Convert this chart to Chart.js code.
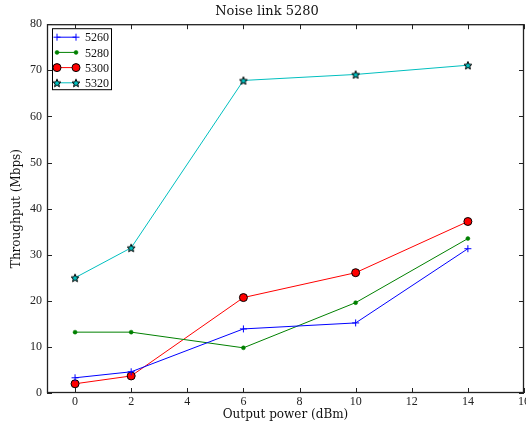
<!DOCTYPE html>
<html>
<head>
<meta charset="utf-8">
<script src="https://cdn.jsdelivr.net/npm/chart.js@4/dist/chart.umd.min.js"></script>
<style>
  html, body { margin: 0; padding: 0; background: #fff; }
  #wrap { width: 526px; height: 426px; }
</style>
</head>
<body>
<div id="wrap"><canvas id="chart"></canvas></div>
<script>
// data
const powerDbm = [0, 2, 6, 10, 14];
const link5260 = [3.3, 4.6, 13.9, 15.2, 31.3];
const link5280 = [13.2, 13.2, 9.8, 19.6, 33.5];
const link5300 = [2.0, 3.7, 20.7, 26.1, 37.2];
const link5320 = [25.0, 31.5, 67.8, 69.1, 71.1];
const xTicks = [0, 2, 4, 6, 8, 10, 12, 14, 16];
const yTicks = [0, 10, 20, 30, 40, 50, 60, 70, 80];

const TICK_FONT = '"Liberation Serif", "DejaVu Serif", serif';
const LABEL_FONT = '"DejaVu Serif", "Liberation Serif", serif';

// filled star marker like matplotlib '*'
function makeStar(size, fill) {
    const c = document.createElement('canvas');
    c.width = size; c.height = size;
    const g = c.getContext('2d');
    const cx = size / 2, cy = size / 2 + 0.5, R = size / 2 - 0.8, r = R * 0.45;
    g.beginPath();
    for (let i = 0; i < 10; i++) {
        const a = -Math.PI / 2 + i * Math.PI / 5;
        const rad = i % 2 === 0 ? R : r;
        g.lineTo(cx + rad * Math.cos(a), cy + rad * Math.sin(a));
    }
    g.closePath();
    g.fillStyle = fill;
    g.fill();
    g.lineWidth = 1;
    g.strokeStyle = '#000';
    g.stroke();
    return c;
}
const starImg = makeStar(10, '#00bfbf');

function pts(arr) {
    return arr.map((v, i) => ({ x: powerDbm[i], y: v }));
}

// inward ticks on all four sides + full frame
const frameTicks = {
    id: 'frameTicks',
    afterDraw(chart) {
        const { ctx, chartArea: a, scales } = chart;
        ctx.save();
        ctx.strokeStyle = '#222';
        ctx.lineWidth = 1.3;
        ctx.strokeRect(a.left + 0.5, a.top + 0.5, a.right - a.left - 1, a.bottom - a.top - 1);
        ctx.lineWidth = 1;
        ctx.beginPath();
        xTicks.forEach(t => {
            const px = Math.round(scales.x.getPixelForValue(t)) + 0.5;
            ctx.moveTo(px, a.bottom); ctx.lineTo(px, a.bottom - 5);
            ctx.moveTo(px, a.top); ctx.lineTo(px, a.top + 5);
        });
        yTicks.forEach(t => {
            const py = Math.round(scales.y.getPixelForValue(t)) + 0.5;
            ctx.moveTo(a.left, py); ctx.lineTo(a.left + 5, py);
            ctx.moveTo(a.right, py); ctx.lineTo(a.right - 5, py);
        });
        ctx.stroke();
        ctx.restore();
    }
};

// legend box in upper left of the plot
const boxLegend = {
    id: 'boxLegend',
    afterDraw(chart) {
        const { ctx, chartArea: a } = chart;
        const x0 = a.left + 5, y0 = a.top + 4, w = 59, h = 61;
        ctx.save();
        ctx.fillStyle = '#fff';
        ctx.fillRect(x0, y0, w, h);
        ctx.strokeStyle = '#000';
        ctx.lineWidth = 1;
        ctx.strokeRect(x0 + 0.5, y0 + 0.5, w, h);
        chart.data.datasets.forEach((ds, i) => {
            const y = y0 + 9 + i * 15.2;
            const xa = x0 + 5, xb = x0 + 24;
            ctx.strokeStyle = ds.borderColor;
            ctx.lineWidth = 1;
            ctx.beginPath();
            ctx.moveTo(xa, y); ctx.lineTo(xb, y);
            ctx.stroke();
            [xa, xb].forEach(px => {
                if (ds.pointStyle === starImg) {
                    ctx.drawImage(starImg, px - starImg.width / 2, y - starImg.height / 2);
                    return;
                }
                ctx.fillStyle = ds.pointBackgroundColor;
                ctx.strokeStyle = ds.pointBorderColor;
                ctx.lineWidth = ds.pointBorderWidth;
                ctx.beginPath();
                if (ds.pointStyle === 'cross') {
                    ctx.moveTo(px - ds.pointRadius, y); ctx.lineTo(px + ds.pointRadius, y);
                    ctx.moveTo(px, y - ds.pointRadius); ctx.lineTo(px, y + ds.pointRadius);
                    ctx.stroke();
                } else {
                    ctx.arc(px, y, ds.pointRadius, 0, Math.PI * 2);
                    ctx.fill();
                    ctx.stroke();
                }
            });
            ctx.fillStyle = '#111';
            ctx.font = '12px ' + TICK_FONT;
            ctx.textBaseline = 'middle';
            ctx.fillText(ds.label, x0 + 33, y + 1);
        });
        ctx.restore();
    }
};

const ctx = document.getElementById('chart').getContext('2d');

new Chart(ctx, {
    type: 'line',
    data: {
        datasets: [
            {
                label: '5260',
                data: pts(link5260),
                borderColor: '#0000ff',
                borderWidth: 1,
                pointStyle: 'cross',
                pointRadius: 3.5,
                pointBorderWidth: 1,
                pointBorderColor: '#0000ff',
                pointBackgroundColor: '#0000ff'
            },
            {
                label: '5280',
                data: pts(link5280),
                borderColor: '#008000',
                borderWidth: 1,
                pointStyle: 'circle',
                pointRadius: 2,
                pointBorderWidth: 0.5,
                pointBorderColor: '#008000',
                pointBackgroundColor: '#008000'
            },
            {
                label: '5300',
                data: pts(link5300),
                borderColor: '#ff0000',
                borderWidth: 1,
                pointStyle: 'circle',
                pointRadius: 4,
                pointBorderWidth: 1,
                pointBorderColor: '#000',
                pointBackgroundColor: '#ff0000'
            },
            {
                label: '5320',
                data: pts(link5320),
                borderColor: '#00bfbf',
                borderWidth: 1,
                pointStyle: starImg,
                pointRadius: 5,
                pointBorderWidth: 1,
                pointBorderColor: '#000',
                pointBackgroundColor: '#00bfbf'
            }
        ]
    },
    options: {
        responsive: true,
        maintainAspectRatio: false,
        animation: false,
        layout: { autoPadding: false, padding: { left: 10, right: 2, top: 0, bottom: 4 } },
        plugins: {
            legend: { display: false },
            tooltip: { enabled: false },
            title: {
                display: true,
                text: 'Noise link 5280',
                color: '#111',
                font: { family: LABEL_FONT, size: 13, weight: 'normal' },
                padding: { top: 4, bottom: 4.6 }
            }
        },
        scales: {
            x: {
                type: 'linear',
                min: -1,
                max: 16,
                afterBuildTicks: s => { s.ticks = xTicks.map(v => ({ value: v })); },
                afterFit: s => { s.height = 29; s.paddingLeft = 0; s.paddingRight = 0; },
                grid: { display: false, drawTicks: false, tickLength: 0 },
                border: { display: false },
                ticks: {
                    color: '#222',
                    padding: 2,
                    maxRotation: 0,
                    font: { family: TICK_FONT, size: 12 }
                },
                title: {
                    display: true,
                    text: 'Output power (dBm)',
                    color: '#111',
                    padding: 0,
                    font: { family: LABEL_FONT, size: 12 }
                }
            },
            y: {
                min: 0,
                max: 80,
                afterBuildTicks: s => { s.ticks = yTicks.map(v => ({ value: v })); },
                afterFit: s => { s.width = 37; s.paddingTop = 0; s.paddingBottom = 0; },
                grid: { display: false, drawTicks: false, tickLength: 0 },
                border: { display: false },
                ticks: {
                    color: '#222',
                    padding: 5,
                    font: { family: TICK_FONT, size: 12 }
                },
                title: {
                    display: true,
                    text: 'Throughput (Mbps)',
                    color: '#111',
                    padding: 0,
                    font: { family: LABEL_FONT, size: 12 }
                }
            }
        }
    },
    plugins: [frameTicks, boxLegend]
});
</script>
</body>
</html>
